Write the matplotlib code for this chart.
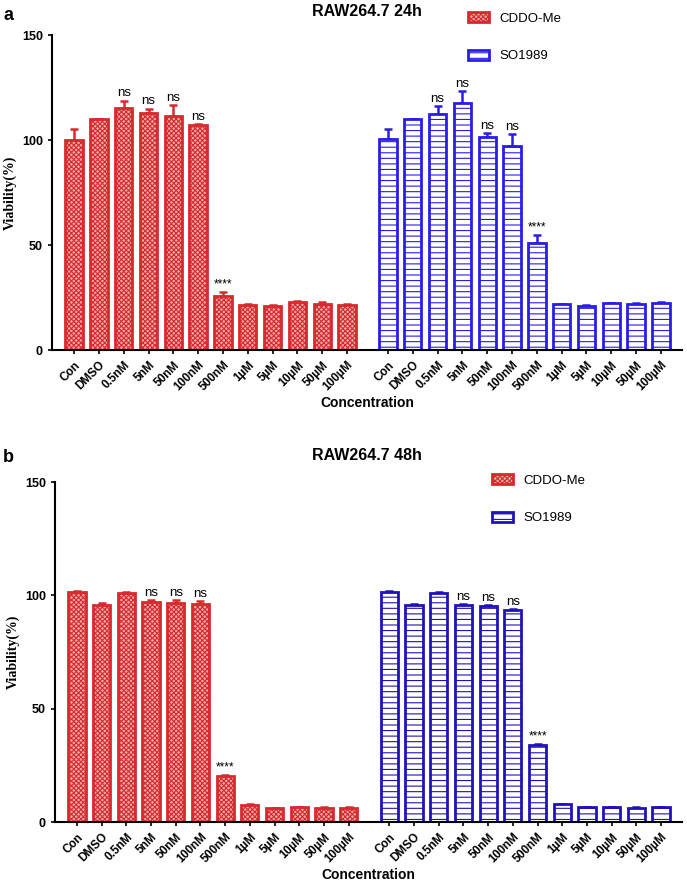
import matplotlib
matplotlib.use("Agg")
import matplotlib.pyplot as plt
from matplotlib.patches import Patch
import numpy as np

# ---------------------------------------------------------------------------
# Data
# ---------------------------------------------------------------------------
conc_labels = ["Con", "DMSO", "0.5nM", "5nM", "50nM", "100nM", "500nM",
               "1µM", "5µM", "10µM", "50µM", "100µM"]

a_cddo = [100.0, 109.8, 115.1, 113.0, 111.4, 107.0, 25.9, 21.3, 20.8, 23.0, 21.7, 21.4]
a_cddo_err = [5.1, 0.4, 3.6, 1.9, 5.3, 0.6, 1.6, 0.8, 0.8, 0.5, 1.0, 0.5]
a_so = [100.3, 109.8, 112.5, 117.5, 101.6, 97.3, 50.8, 21.7, 21.0, 22.2, 21.9, 22.4]
a_so_err = [4.8, 0.3, 3.7, 5.8, 1.6, 5.4, 4.1, 0.4, 0.4, 0.3, 0.3, 0.6]

b_cddo = [101.5, 95.7, 101.2, 96.9, 96.6, 96.2, 20.3, 7.7, 6.0, 6.6, 6.2, 6.3]
b_cddo_err = [0.6, 0.7, 0.3, 1.0, 1.3, 1.2, 0.6, 0.2, 0.2, 0.2, 0.2, 0.2]
b_so = [101.6, 95.7, 101.0, 95.8, 95.3, 93.4, 34.0, 7.8, 6.6, 6.6, 6.3, 6.6]
b_so_err = [0.5, 0.6, 0.3, 0.4, 0.4, 0.4, 0.5, 0.2, 0.2, 0.2, 0.2, 0.2]

a_marks = ["", "", "ns", "ns", "ns", "ns", "****", "", "", "", "", ""]
b_marks = ["", "", "", "ns", "ns", "ns", "****", "", "", "", "", ""]

RED = "#d62a2e"
RED_FACE = "#f2a8a8"
BLUE_A = "#2a1de6"
BLUE_B = "#2012b8"
GAP = 12.65

plt.rcParams["font.family"] = ["Liberation Sans", "DejaVu Sans"]
plt.rcParams["hatch.linewidth"] = 0.8


def draw_group(ax, xs, vals, errs, marks, color, hatch, face):
    ax.bar(xs, vals, width=0.7, facecolor=face, edgecolor=color,
           hatch=hatch, linewidth=2.0, zorder=2)
    ax.errorbar(xs, vals, yerr=[np.zeros(len(errs)), errs], fmt="none",
                ecolor=color, elinewidth=1.8, capsize=3, capthick=1.8, zorder=1)
    for x, v, e, m in zip(xs, vals, errs, marks):
        if not m:
            continue
        size = 9.5 if m == "ns" else 8.5
        ax.annotate(m, (x, v + e), xytext=(0, 1), textcoords="offset points",
                    ha="center", va="bottom", fontsize=size)


def panel(ax, cddo, cddo_err, so, so_err, marks, blue, title, letter, title_y, leg_pos):
    xr = np.arange(len(conc_labels))
    xb = xr + GAP
    draw_group(ax, xr, cddo, cddo_err, marks, RED, "xxxxxxx", RED_FACE)
    draw_group(ax, xb, so, so_err, marks, blue, "---", "white")

    ax.set_xlim(-0.89, GAP + 11 + 0.85)
    ax.set_ylim(0, 150)
    ax.set_yticks([0, 50, 100, 150])
    ax.set_xticks(np.concatenate([xr, xb]))
    ax.set_xticklabels(conc_labels * 2, rotation=45, ha="right",
                       rotation_mode="anchor", fontsize=8.5, fontweight="bold")
    for lab in ax.get_yticklabels():
        lab.set_fontweight("bold")
        lab.set_fontsize(9)
    ax.tick_params(axis="both", direction="out", width=1.2, length=3)
    ax.spines["top"].set_visible(False)
    ax.spines["right"].set_visible(False)
    ax.spines["left"].set_linewidth(1.5)
    ax.spines["bottom"].set_linewidth(1.5)
    ax.set_ylabel("Viability(%)", family="Liberation Serif", fontweight="bold", fontsize=10)
    ax.set_xlabel("Concentration", fontweight="bold", fontsize=10, labelpad=2)

    fig = ax.figure
    fig.text(367 / 687, 1 - title_y / 888, title, ha="center", va="center",
             fontsize=11.5, fontweight="bold")
    fig.text(3 / 687, 1 - (title_y + 3) / 888, letter, ha="left", va="center",
             fontsize=13, fontweight="bold")

    handles = [Patch(facecolor=RED_FACE, edgecolor=RED, hatch="xxxxxxx", linewidth=2.0),
               Patch(facecolor="white", edgecolor=blue, hatch="---", linewidth=2.0)]
    fig.legend(handles, ["CDDO-Me", "SO1989"], loc="upper left",
               bbox_to_anchor=(leg_pos[0] / 687, 1 - leg_pos[1] / 888),
               frameon=False, fontsize=9.5, labelspacing=1.9,
               handlelength=1.6, handleheight=0.8, handletextpad=0.8)


fig = plt.figure(figsize=(6.87, 8.88), dpi=100)
ax_a = fig.add_axes([52 / 687, 1 - 350 / 888, (682 - 52) / 687, (350 - 35) / 888])
ax_b = fig.add_axes([55 / 687, 1 - 822 / 888, (682 - 55) / 687, (822 - 482) / 888])

panel(ax_a, a_cddo, a_cddo_err, a_so, a_so_err, a_marks, BLUE_A,
      "RAW264.7 24h", "a", 12, (456, 0))
panel(ax_b, b_cddo, b_cddo_err, b_so, b_so_err, b_marks, BLUE_B,
      "RAW264.7 48h", "b", 455, (480, 462))

fig.savefig("out.png", dpi=100)
